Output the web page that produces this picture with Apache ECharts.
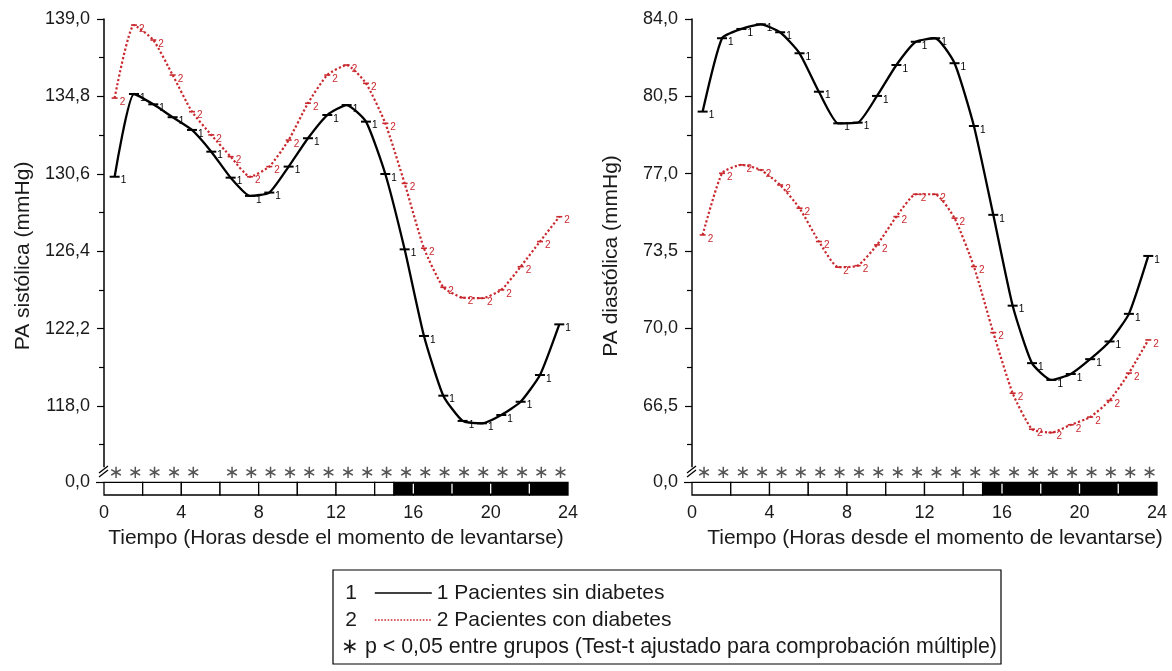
<!DOCTYPE html>
<html><head><meta charset="utf-8">
<script src="https://cdn.jsdelivr.net/npm/echarts@6/dist/echarts.min.js"></script>
<style>html,body{margin:0;padding:0;background:#fff}#c{width:1172px;height:671px}</style>
</head><body><div id="c"></div>
<script>
// ---- data ----
const hours = [0.55,1.55,2.55,3.55,4.55,5.55,6.55,7.55,8.55,9.55,10.55,11.55,12.55,13.55,14.55,15.55,16.55,17.55,18.55,19.55,20.55,21.55,22.55,23.55];
const sysNoDiab = [130.44,134.93,134.37,133.67,132.98,131.8,130.39,129.4,129.58,130.99,132.53,133.79,134.33,133.43,130.59,126.5,121.8,118.56,117.19,117.06,117.51,118.23,119.68,122.43];
const sysDiab   = [134.71,138.67,137.86,135.96,133.97,132.71,131.53,130.44,130.99,132.43,134.43,135.96,136.5,135.51,133.34,130.08,126.56,124.44,123.88,123.85,124.3,125.56,126.92,128.27];
const diaNoDiab = [79.81,83.13,83.55,83.76,83.4,82.45,80.71,79.28,79.31,80.52,81.92,82.97,83.13,82.0,79.16,75.14,71.03,68.43,67.67,67.94,68.61,69.41,70.66,73.28];
const diaDiab   = [74.23,77.02,77.4,77.17,76.49,75.44,73.93,72.77,72.84,73.78,75.06,76.07,76.07,74.99,72.8,69.81,67.07,65.44,65.29,65.64,65.99,66.74,67.98,69.48];
const sigHoursSys = [0.62,1.62,2.62,3.62,4.62,6.62,7.62,8.62,9.62,10.62,11.62,12.62,13.62,14.62,15.62,16.62,17.62,18.62,19.62,20.62,21.62,22.62,23.62];
const sigHoursDia = [0.62,1.62,2.62,3.62,4.62,5.62,6.62,7.62,8.62,9.62,10.62,11.62,12.62,13.62,14.62,15.62,16.62,17.62,18.62,19.62,20.62,21.62,22.62,23.62];
const sysTicks = [118.0,122.2,126.4,130.6,134.8,139.0];
const sysMinor = [115.9,120.1,124.3,128.5,132.7,136.9];
const diaTicks = [66.5,70.0,73.5,77.0,80.5,84.0];
const diaMinor = [64.75,68.25,71.75,75.25,78.75,82.25];
const stripBounds = [0,2,4,6,8,10,12,14,15,16,18,20,22,24];
const nightStart = 15;
const name1 = '1 Pacientes sin diabetes';
const name2 = '2 Pacientes con diabetes';
const xName = 'Tiempo (Horas desde el momento de levantarse)';
const noteText = '∗ p < 0,05 entre grupos (Test-t ajustado para comprobación múltiple)';

// ---- layout ----
const FONT = "'Liberation Sans', Arial, Helvetica, sans-serif";
const RED = '#c8282e';
const TXT = '#1a1a1a';
const STAR_ROW = 0.68;
const panels = [
  {left:104, width:464, min:114.7, max:139, ticks:sysTicks, minor:sysMinor, s1:sysNoDiab, s2:sysDiab, sig:sigHoursSys, yName:'PA sistólica (mmHg)', namePadX:[0,0,0,0]},
  {left:692, width:465, min:63.74, max:84, ticks:diaTicks, minor:diaMinor, s1:diaNoDiab, s2:diaDiab, sig:sigHoursDia, yName:'PA diastólica (mmHg)', namePadX:[0,0,0,21]}
];
const fmt = v => v.toFixed(1).replace('.', ',');
const segs = [];
for (let i = 0; i < stripBounds.length - 1; i++) segs.push([stripBounds[i], stripBounds[i+1]]);

const grid = [], xAxis = [], yAxis = [], series = [];
panels.forEach((p, k) => {
  const gMain = grid.length, gStrip = gMain + 1;
  grid.push({left:p.left, top:19, width:p.width, height:447.8});
  grid.push({left:p.left, top:462, width:p.width, height:33});
  xAxis.push({gridIndex:gMain, type:'value', min:0, max:24, show:false});
  xAxis.push({gridIndex:gStrip, type:'value', min:0, max:24, interval:4,
    axisLine:{show:false}, axisTick:{show:false}, splitLine:{show:false},
    axisLabel:{fontSize:18, color:TXT, margin:9, fontFamily:FONT},
    name:xName, nameLocation:'middle', nameGap:33,
    nameTextStyle:{fontSize:21, color:TXT, fontFamily:FONT, padding:p.namePadX}});
  const yMain = yAxis.length;
  yAxis.push({gridIndex:gMain, type:'value', min:p.min, max:p.max, position:'left',
    axisLine:{show:true, lineStyle:{color:'#000', width:1.5}},
    axisTick:{show:true, customValues:p.ticks, length:7, lineStyle:{color:'#000', width:1.2}},
    axisLabel:{customValues:p.ticks, formatter:fmt, fontSize:18, color:TXT, margin:14, fontFamily:FONT},
    splitLine:{show:false},
    name:p.yName, nameLocation:'middle', nameGap:70,
    nameTextStyle:{fontSize:21, color:TXT, fontFamily:FONT, padding:[0,26,0,0]}});
  yAxis.push({gridIndex:gMain, type:'value', min:p.min, max:p.max, position:'left',
    axisLine:{show:false}, axisLabel:{show:false}, splitLine:{show:false},
    axisTick:{show:true, customValues:p.minor, length:5, lineStyle:{color:'#000', width:1.2}}});
  const yStrip = yAxis.length;
  yAxis.push({gridIndex:gStrip, type:'value', min:-1, max:1.6, position:'left',
    axisLine:{show:false}, splitLine:{show:false},
    axisTick:{show:true, customValues:[0], length:8, lineStyle:{color:'#000', width:1.2}},
    axisLabel:{customValues:[0], formatter:() => '0,0', fontSize:18, color:TXT, margin:14, fontFamily:FONT}});

  series.push({type:'line', name:name1, xAxisIndex:gMain, yAxisIndex:yMain,
    data:hours.map((h,i)=>[h, p.s1[i]]), smooth:0.18, color:'#000',
    lineStyle:{color:'#000', width:2.3}, symbol:'rect', symbolSize:[10,2],
    itemStyle:{color:'#000'},
    label:{show:true, formatter:'1', position:'right', offset:[-4,4], fontSize:10, color:'#000', fontFamily:FONT},
    z:4, animation:false});
  series.push({type:'line', name:name2, xAxisIndex:gMain, yAxisIndex:yMain,
    data:hours.map((h,i)=>[h, p.s2[i]]), smooth:0.18, color:RED,
    lineStyle:{color:RED, width:2.2, type:'dotted'}, symbol:'rect', symbolSize:[6,1.6],
    itemStyle:{color:RED},
    label:{show:true, formatter:'2', position:'right', offset:[-3,4], fontSize:10, color:RED, fontFamily:FONT},
    z:3, animation:false});
  series.push({type:'custom', xAxisIndex:gStrip, yAxisIndex:yStrip, data:segs,
    encode:{x:[0,1]}, silent:true, animation:false,
    renderItem:(params, api) => {
      const s = api.value(0), e = api.value(1);
      const a = api.coord([s, 0]), b = api.coord([e, -1]);
      const dark = s >= nightStart;
      const ch = [{type:'rect', shape:{x:a[0], y:a[1], width:b[0]-a[0], height:b[1]-a[1]},
        style:{fill:dark?'#000':'#fff', stroke:'#000', lineWidth:1.3}}];
      if (dark && s > nightStart) ch.push({type:'line', shape:{x1:a[0], y1:a[1]+1.5, x2:a[0], y2:b[1]-1.5}, style:{stroke:'#fff', lineWidth:1.3}});
      return {type:'group', children:ch};
    }});
  series.push({type:'custom', xAxisIndex:gStrip, yAxisIndex:yStrip, data:p.sig.map(h=>[h]),
    encode:{x:0}, silent:true, animation:false,
    renderItem:(params, api) => {
      const c = api.coord([api.value(0), STAR_ROW]);
      return {type:'text', x:c[0], y:c[1], style:{text:'∗', fill:'#555', fontSize:18, align:'center', verticalAlign:'middle', fontFamily:'DejaVu Sans'}};
    }});
});

// decorations: axis breaks, legend box
const graphic = [];
panels.forEach(p => {
  const x = p.left;
  graphic.push({type:'line', shape:{x1:x-5, y1:473, x2:x+4, y2:466}, style:{stroke:'#000', lineWidth:1.3}});
  graphic.push({type:'line', shape:{x1:x-5, y1:477, x2:x+4, y2:470}, style:{stroke:'#000', lineWidth:1.3}});
});
graphic.push({type:'rect', shape:{x:333, y:570, width:668, height:94}, style:{fill:'none', stroke:'#000', lineWidth:1.2}});
graphic.push({type:'text', x:351, y:593, style:{text:'1', fontSize:21, fill:TXT, align:'center', verticalAlign:'middle', fontFamily:FONT}});
graphic.push({type:'text', x:351, y:620, style:{text:'2', fontSize:21, fill:TXT, align:'center', verticalAlign:'middle', fontFamily:FONT}});
graphic.push({type:'text', x:341, y:647, style:{text:noteText, fontSize:21.4, fill:TXT, align:'left', verticalAlign:'middle', fontFamily:FONT}});

const chart = echarts.init(document.getElementById('c'), null, {renderer:'canvas'});
chart.setOption({
  animation:false,
  backgroundColor:'#fff',
  textStyle:{fontFamily:FONT},
  grid, xAxis, yAxis, series, graphic,
  legend:{data:[name1, name2], orient:'vertical', left:374, top:581, padding:0,
    itemWidth:57, itemHeight:14, itemGap:3, selectedMode:false,
    itemStyle:{opacity:0}, lineStyle:{width:1.6},
    textStyle:{fontSize:21, color:TXT, lineHeight:24, fontFamily:FONT}}
});
</script></body></html>
